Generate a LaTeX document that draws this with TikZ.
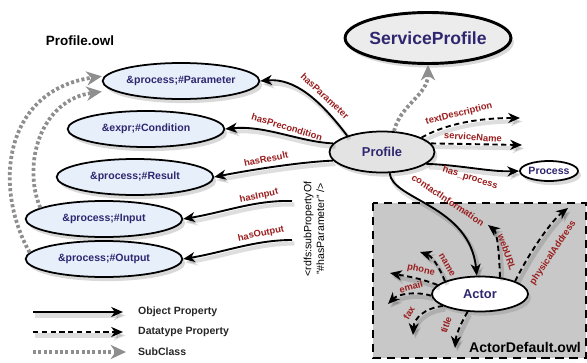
\documentclass[tikz,border=0pt]{standalone}
\usepackage{fontspec}
\setmainfont{Liberation Sans}
\usetikzlibrary{arrows.meta,shapes.geometric,shadows}

\definecolor{propred}{HTML}{9A1E1E}
\definecolor{clstext}{HTML}{2E2770}
\definecolor{clsfill}{HTML}{E7EFFB}
\definecolor{boxfill}{HTML}{C8C8C8}
\definecolor{subgray}{HTML}{8E8E8E}

\tikzset{
	shadowed/.style={drop shadow={opacity=0.3,shadow xshift=2.5pt,shadow yshift=-3.5pt}},
	lineshadow/.style={preaction={draw=black,opacity=0.13,line width=3.5pt,transform canvas={shift={(2pt,-3pt)}}}},
	cls/.style={ellipse,draw,line width=1.5pt,fill=clsfill,text=clstext,inner sep=0pt,shadowed,font=\bfseries\fontsize{9}{11}\selectfont},
	prm/.style={cls,minimum width=4.7cm,minimum height=1.08cm},
	objprop/.style={line width=1.6pt,lineshadow,-{Stealth[length=10pt,width=8.5pt,inset=3pt]}},
	dataprop/.style={objprop,dash pattern=on 4.5pt off 3pt},
	subcls/.style={line width=3.2pt,draw=subgray,dash pattern=on 2.6pt off 2pt,-{Stealth[length=13pt,width=12pt,inset=4pt]}},
	plabel/.style={text=propred,inner sep=0pt,font=\bfseries\fontsize{8}{9}\selectfont},
	legend/.style={anchor=west,text=black!85,font=\bfseries\fontsize{9}{11}\selectfont},
}

\begin{document}
\begin{tikzpicture}[x=0.03cm,y=-0.03cm]
	\useasboundingbox (0,0) rectangle (587,362);

	% ActorDefault.owl
	\draw[fill=boxfill,line width=1.8pt,dash pattern=on 7pt off 5pt] (373,203) rectangle (586,358);
	\node[font=\bfseries\fontsize{12}{14}\selectfont] (actowl) at (525,347) {ActorDefault.owl};

	% classes
	\node[font=\bfseries\fontsize{11.5}{13}\selectfont] (profowl) at (80,41) {Profile.owl};
	\node[cls,line width=2.5pt,fill=gray!15,minimum width=4.2cm,minimum height=1.53cm,font=\bfseries\fontsize{15}{17}\selectfont] (srvprof) at (428,38) {ServiceProfile};
	\node[cls,fill=gray!22,minimum width=3.15cm,minimum height=1.23cm,font=\bfseries\fontsize{11}{13}\selectfont] (prof) at (382,152) {Profile};
	\node[cls,fill=white,minimum width=1.65cm,minimum height=0.6cm] (proc) at (549,171) {Process};
	\node[prm] (param) at (181,81) {\&process;\#Parameter};
	\node[prm] (cond) at (146,129) {\&expr;\#Condition};
	\node[prm] (result) at (135,177) {\&process;\#Result};
	\node[prm] (input) at (104,219) {\&process;\#Input};
	\node[prm] (output) at (104,259) {\&process;\#Output};
	\node[cls,fill=white,minimum width=2.88cm,minimum height=1.05cm,font=\bfseries\fontsize{11}{13}\selectfont] (actor) at (480,294) {Actor};

	% subclasses
	\draw[subcls] (output.175) .. controls (-8,185) and (5,90) .. ([yshift=4pt]param.west);
	\draw[subcls] (input.170) .. controls (22,165) and (40,100) .. ([yshift=-9pt]param.west);
	\draw[subcls] (prof.60) .. controls (400,105) and (428,95) .. (srvprof.south);

	% object properties
	\coordinate (inA) at (292,201);
	\coordinate (outA) at (292,240);
	\draw[objprop] (prof.155) .. controls (320,100) and (295,78) .. (param.east);
	\draw[objprop] (prof.170) .. controls (300,142) and (265,125) .. (cond.east);
	\draw[objprop] (prof.190) .. controls (300,162) and (250,170) .. (result.east);
	\draw[objprop] (inA) .. controls (255,200) and (225,212) .. (input.east);
	\draw[objprop] (outA) .. controls (255,240) and (225,252) .. (output.east);
	\draw[objprop] (prof.-15) .. controls (460,165) and (490,172) .. (proc.west);
	\draw[objprop] (prof.-70) .. controls (392,200) and (470,205) .. (actor.100);

	% datatype properties
	\coordinate (tdE) at (520,118);
	\coordinate (snE) at (522,145);
	\coordinate (webE) at (488,225);
	\coordinate (addrE) at (568,208);
	\coordinate (nameE) at (420,252);
	\coordinate (phoneE) at (390,273);
	\coordinate (mailE) at (388,304);
	\coordinate (faxE) at (413,335);
	\coordinate (titleE) at (455,348);
	\draw[dataprop] (prof.20) .. controls (440,127) and (470,118) .. (tdE);
	\draw[dataprop] (prof.10) -- (snE);
	\draw[dataprop] (actor.40) .. controls (499,250) and (497,232) .. (webE);
	\draw[dataprop] (actor.20) .. controls (528,255) and (550,222) .. (addrE);
	\draw[dataprop] (actor.160) .. controls (440,268) and (432,256) .. (nameE);
	\draw[dataprop] (actor.168) .. controls (420,278) and (405,276) .. (phoneE);
	\draw[dataprop] (actor.182) .. controls (415,291) and (398,294) .. (mailE);
	\draw[dataprop] (actor.198) .. controls (425,308) and (414,318) .. (faxE);
	\draw[dataprop] (actor.-125) .. controls (460,325) and (456,335) .. (titleE);

	% property names
	\node[plabel,rotate=-43] (lbparam) at (325,96) {hasParameter};
	\node[plabel,rotate=-17] (lbcond) at (287,127) {hasPrecondition};
	\node[plabel,rotate=12] (lbres) at (266,159) {hasResult};
	\node[plabel,rotate=12] (lbin) at (259,196) {hasInput};
	\node[plabel,rotate=12] (lbout) at (261,234) {hasOutput};
	\node[plabel,rotate=14] (lbtd) at (459,114) {textDescription};
	\node[plabel,rotate=-4] (lbsn) at (473,137) {serviceName};
	\node[plabel,rotate=-18] (lbproc) at (470,178) {has\_process};
	\node[plabel,rotate=-34] (lbcont) at (448,200) {contactInformation};
	\node[plabel,rotate=-71] (lbweb) at (507,252) {webURL};
	\node[plabel,rotate=56] (lbaddr) at (553,253) {physicalAddress};
	\node[plabel,rotate=-60] (lbname) at (447,265) {name};
	\node[plabel,rotate=-12] (lbphone) at (421,270) {phone};
	\node[plabel,rotate=15] (lbmail) at (411,287) {email};
	\node[plabel,rotate=60] (lbfax) at (409,313) {fax};
	\node[plabel,rotate=70] (lbtitle) at (446,325) {title};
	\node[rotate=90,align=center,inner sep=0pt,font=\fontsize{9}{11}\selectfont] (rdfs) at (314,229) {<rdfs:subPropertyOf\\"\#hasParameter" />};

	% legend
	\coordinate (lgo1) at (33,312);
	\coordinate (lgo2) at (123,312);
	\coordinate (lgd1) at (33,332);
	\coordinate (lgd2) at (123,332);
	\coordinate (lgs1) at (33,352);
	\coordinate (lgs2) at (126,352);
	\draw[objprop] (lgo1) -- (lgo2);
	\draw[dataprop] (lgd1) -- (lgd2);
	\draw[subcls] (lgs1) -- (lgs2);
	\node[legend] (lgotxt) at (134,312) {Object Property};
	\node[legend] (lgdtxt) at (134,332) {Datatype Property};
	\node[legend] (lgstxt) at (134,352) {SubClass};

\end{tikzpicture}
\end{document}
